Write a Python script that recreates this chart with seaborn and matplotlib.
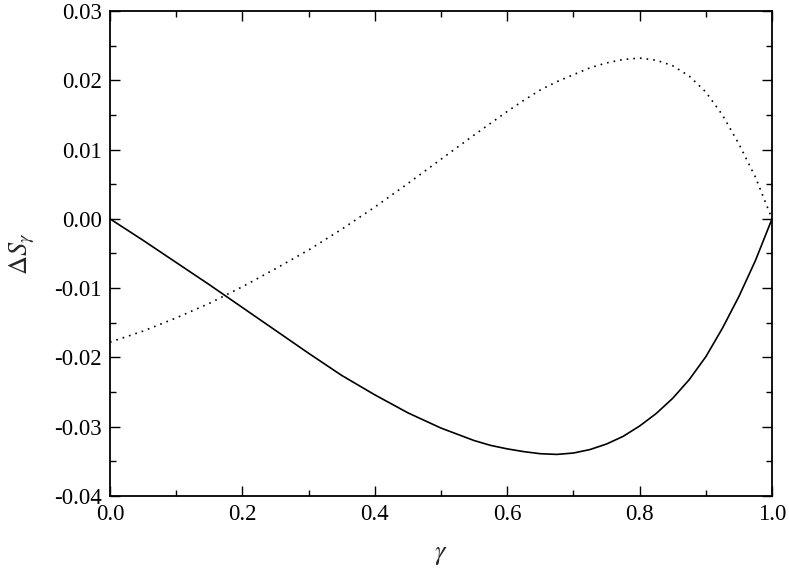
import numpy as np
import pandas as pd
import matplotlib
matplotlib.use('Agg')
import matplotlib.pyplot as plt
import seaborn as sns
from matplotlib.ticker import MultipleLocator, FormatStrFormatter

# values
gamma = [0.0, 0.05, 0.1, 0.15, 0.2, 0.25, 0.3, 0.35, 0.4, 0.45, 0.5, 0.55,
         0.575, 0.6, 0.625, 0.65, 0.675, 0.7, 0.725, 0.75, 0.775, 0.8, 0.825,
         0.85, 0.875, 0.9, 0.925, 0.95, 0.975, 1.0]
ds_solid = [0.0, -0.0031, -0.0063, -0.0095, -0.0128, -0.0161, -0.0194,
            -0.0226, -0.0254, -0.0280, -0.0302, -0.0320, -0.0327, -0.0332,
            -0.0336, -0.0339, -0.0340, -0.0338, -0.0333, -0.0325, -0.0314,
            -0.0299, -0.0281, -0.0259, -0.0232, -0.0199, -0.0158, -0.0112,
            -0.0060, 0.0]
ds_dot = [-0.0178, -0.0162, -0.0143, -0.0122, -0.0098, -0.0072, -0.0045,
          -0.0015, 0.0017, 0.0051, 0.0086, 0.0121, 0.0138, 0.0155, 0.0171,
          0.0186, 0.0198, 0.0208, 0.0218, 0.0225, 0.0230, 0.0232, 0.0229,
          0.0221, 0.0206, 0.0183, 0.0150, 0.0108, 0.0060, 0.0]

sns.set_style('ticks')
plt.rcParams['font.family'] = 'serif'
plt.rcParams['font.serif'] = ['Liberation Serif', 'DejaVu Serif']
plt.rcParams['mathtext.fontset'] = 'stix'
plt.rcParams['axes.unicode_minus'] = False

fig = plt.figure(figsize=(7.89, 5.72), dpi=100)
ax = fig.add_axes([0.1394, 0.1329, 0.8391, 0.8479])

df = pd.DataFrame({'gamma': gamma, 'solid': ds_solid, 'dot': ds_dot})

sns.lineplot(data=df, x='gamma', y='solid', ax=ax, color='black', lw=1.2)
sns.lineplot(data=df, x='gamma', y='dot', ax=ax, color='black', lw=1.2,
             linestyle=(0, (1, 3)))

ax.set_xlim(0, 1.0)
ax.set_ylim(-0.04, 0.03)
ax.xaxis.set_major_locator(MultipleLocator(0.2))
ax.xaxis.set_minor_locator(MultipleLocator(0.1))
ax.yaxis.set_major_locator(MultipleLocator(0.01))
ax.yaxis.set_minor_locator(MultipleLocator(0.005))
ax.xaxis.set_major_formatter(FormatStrFormatter('%.1f'))
ax.yaxis.set_major_formatter(FormatStrFormatter('%.2f'))

ax.tick_params(which='both', direction='in', top=True, right=True,
               labelsize=16.5, width=1.0, color='black', labelcolor='black')
ax.tick_params(which='major', length=7, pad=6)
ax.tick_params(which='minor', length=4)
for s in ax.spines.values():
    s.set_linewidth(1.3)
    s.set_color('black')

ax.set_xlabel(r'$\gamma$', fontsize=19, labelpad=14)
ax.set_ylabel(r'$\mathit{\Delta S}_{\gamma}$', fontsize=19, labelpad=12)

fig.savefig('out.png', dpi=100)
